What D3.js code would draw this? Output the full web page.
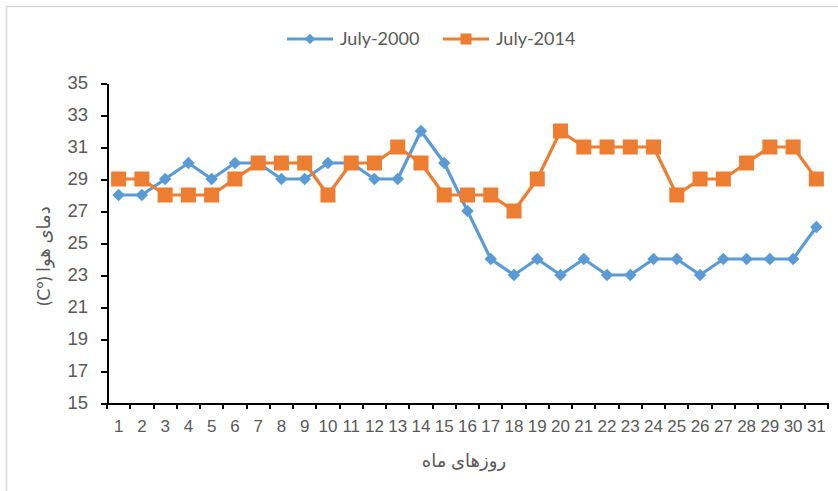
<!DOCTYPE html>
<html>
<head>
<meta charset="utf-8">
<title>July temperature</title>
<script src="https://d3js.org/d3.v7.min.js"></script>
<style>
    body { margin: 0; background: #fff; }
    svg { display: block; font-family: Lato, Calibri, "Liberation Sans", "DejaVu Sans", sans-serif; }
    .axis path.domain, .axis line { stroke: #000; stroke-width: 2; shape-rendering: crispEdges; }
    .axis text { fill: #595959; }
    .line { fill: none; stroke-width: 3.2; stroke-linejoin: round; }
</style>
</head>
<body>
<svg id="chart" width="838" height="491"></svg>
<script>
const days = d3.range(1, 32).map(String);
const july2000 = [28, 28, 29, 30, 29, 30, 30, 29, 29, 30, 30, 29, 29, 32, 30, 27, 24, 23, 24, 23, 24, 23, 23, 24, 24, 23, 24, 24, 24, 24, 26];
const july2014 = [29, 29, 28, 28, 28, 29, 30, 30, 30, 28, 30, 30, 31, 30, 28, 28, 28, 27, 29, 32, 31, 31, 31, 31, 28, 29, 29, 30, 31, 31, 29];
const yTicks = [15, 17, 19, 21, 23, 25, 27, 29, 31, 33, 35];
const seriesNames = ['July-2000', 'July-2014'];
const colors = ['#5B9BD5', '#ED7D31'];

let svg = d3.select('#chart');

// frame
svg.append('path')
    .attr('d', 'M6.5,491 V6.5 H838')
    .attr('fill', 'none')
    .attr('stroke', '#d9d9d9')
    .attr('stroke-width', 1.5);

let x = d3.scaleBand().domain(days).range([107, 828]);
let y = d3.scaleLinear().domain([15, 35]).range([403, 83]);

// y axis
let yAxis = svg.append('g')
    .attr('class', 'axis')
    .attr('transform', 'translate(107,0)')
    .call(d3.axisLeft(y).tickValues(yTicks).tickSize(6).tickSizeOuter(0).tickPadding(13));
yAxis.selectAll('text').style('font-size', '18.5px');

// x axis with ticks at band edges
let xAxis = svg.append('g')
    .attr('class', 'axis')
    .attr('transform', 'translate(0,403)')
    .call(d3.axisBottom(x).tickSize(0).tickPadding(17));
xAxis.selectAll('text').style('font-size', '17px');
let edges = days.map(d => x(d)).concat([x.range()[1]]);
xAxis.selectAll('line.edge')
    .data(edges)
    .enter().append('line')
    .attr('class', 'edge')
    .attr('x1', d => d).attr('x2', d => d)
    .attr('y1', 0).attr('y2', 6)
    .attr('stroke', '#000')
    .attr('stroke-width', 1.5);

// axis titles
svg.append('text')
    .attr('transform', 'translate(50,256) rotate(-90)')
    .attr('text-anchor', 'middle')
    .attr('direction', 'rtl')
    .style('font-size', '18px')
    .attr('fill', '#595959')
    .text('دمای هوا (°C)');

svg.append('text')
    .attr('x', 464)
    .attr('y', 467)
    .attr('text-anchor', 'middle')
    .style('font-size', '18px')
    .attr('fill', '#595959')
    .text('روزهای ماه');

let xc = d => x(d) + x.bandwidth() / 2;
let line = d3.line()
    .x((v, i) => xc(days[i]))
    .y(v => y(v));

[july2000, july2014].forEach(function(vals, s) {
    svg.append('path')
        .attr('class', 'line')
        .attr('stroke', colors[s])
        .attr('d', line(vals));
});

// diamonds for 2000
svg.selectAll('path.diamond')
    .data(july2000)
    .enter().append('path')
    .attr('class', 'diamond')
    .attr('d', d3.symbol().type(d3.symbolDiamond2).size(100))
    .attr('transform', (v, i) => 'translate(' + xc(days[i]) + ',' + y(v) + ')')
    .attr('fill', colors[0]);

// squares for 2014
svg.selectAll('rect.sq')
    .data(july2014)
    .enter().append('rect')
    .attr('class', 'sq')
    .attr('x', (v, i) => xc(days[i]) - 7.5)
    .attr('y', v => y(v) - 7.5)
    .attr('width', 15)
    .attr('height', 15)
    .attr('fill', colors[1]);

// legend
let legend = svg.append('g').attr('transform', 'translate(0,39)');
let legendItems = [{ x0: 287, name: seriesNames[0] }, { x0: 443, name: seriesNames[1] }];
legendItems.forEach(function(it, s) {
    let g = legend.append('g').attr('transform', 'translate(' + it.x0 + ',0)');
    g.append('line')
        .attr('x1', 0).attr('x2', 46)
        .attr('stroke', colors[s]).attr('stroke-width', 3.2);
    if (s === 0) {
        g.append('path')
            .attr('d', d3.symbol().type(d3.symbolDiamond2).size(70))
            .attr('transform', 'translate(23,0)')
            .attr('fill', colors[s]);
    } else {
        g.append('rect')
            .attr('x', 17.5).attr('y', -5.5).attr('width', 11).attr('height', 11)
            .attr('fill', colors[s]);
    }
    g.append('text')
        .attr('x', 53)
        .attr('dy', '0.35em')
        .style('font-size', '18px')
        .attr('fill', '#595959')
        .text(it.name);
});
</script>
</body>
</html>
